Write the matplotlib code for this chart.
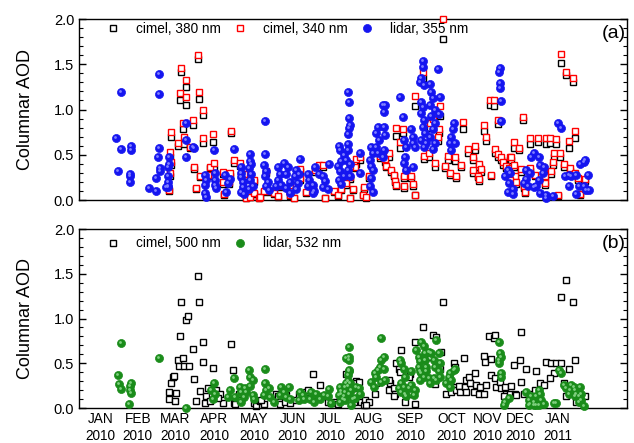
import numpy as np
import matplotlib.pyplot as plt
from matplotlib.ticker import MultipleLocator, FormatStrFormatter
from matplotlib.transforms import offset_copy

plt.rcParams['font.family'] = ['Liberation Sans', 'DejaVu Sans']

# x axis: days since 1 Jan 2010
month_pos = [0, 30, 60, 91, 123, 154, 184, 215, 248, 281, 310, 336, 366]
month_lab = ['JAN\n2010', 'FEB\n2010', 'MAR\n2010', 'APR\n2010', 'MAY\n2010',
             'JUN\n2010', 'JUL\n2010', 'AUG\n2010', 'SEP\n2010', 'OCT\n2010',
             'NOV\n2010', 'DEC\n2010', 'JAN\n2011']

# ---- panel (a): lidar 355 nm
lidar355_day = [13, 17, 17, 14, 25, 25, 24, 24, 24, 39, 45,
                47, 47, 47, 46, 48, 48, 45, 54, 54, 54, 54, 54, 53, 55, 55,
                69, 69, 69, 74, 75, 84, 84, 85, 84, 85,
                91, 92, 92, 92, 93, 107, 100, 102, 104, 101,
                113, 113, 113, 114, 114, 113, 115,
                120, 121, 120, 119, 121, 120, 122, 119,
                132, 132, 131, 133, 132, 134, 133, 135,
                142, 144, 142, 145, 141, 147, 150, 149, 152, 149, 152,
                160, 157, 156, 159, 158, 157,
                166, 167, 170, 166, 172, 171, 175, 170,
                178, 180, 182, 178, 183,
                191, 192, 195, 193, 190, 192, 195, 191, 193,
                198, 199, 199, 200, 199, 198, 198, 198, 197, 200, 198, 200,
                208, 208, 217, 218, 216, 217, 218, 217, 216, 218,
                222, 221, 223, 221, 222, 227, 228, 227, 226,
                226, 228, 227, 240, 242, 243, 245, 244, 243, 245,
                250, 249, 250, 252, 250, 258, 258, 257, 256, 259,
                257, 258, 257, 259, 258, 260, 257, 259,
                264, 265, 266, 264, 268, 265, 268, 266, 264, 261, 268, 266,
                270, 272, 271, 280, 281, 282, 283, 281, 284,
                320, 319, 320, 320, 321, 321,
                326, 328, 324, 327, 330, 326, 330,
                341, 344, 341, 342, 347, 339,
                345, 347, 351, 352, 355, 354, 351, 349, 352,
                357, 357, 362, 366, 369,
                372, 375, 377, 375, 381, 383, 381,
                384, 387, 388, 390, 389, 387, 391]
lidar355_aod = [0.68, 1.19, 0.56, 0.32, 0.60, 0.55, 0.29, 0.27, 0.20, 0.13, 0.10,
                1.39, 1.17, 0.58, 0.47, 0.35, 0.32, 0.24, 0.37, 0.26, 0.20, 0.16, 0.14, 0.14, 0.48, 0.40,
                0.85, 0.66, 0.48, 0.59, 0.58, 0.17, 0.08, 0.03, 0.28, 0.22,
                0.55, 0.30, 0.22, 0.17, 0.13, 0.56, 0.28, 0.19, 0.23, 0.09,
                0.36, 0.30, 0.25, 0.20, 0.14, 0.09, 0.07,
                0.43, 0.40, 0.51, 0.35, 0.29, 0.22, 0.16, 0.12,
                0.87, 0.51, 0.39, 0.32, 0.26, 0.20, 0.15, 0.11,
                0.36, 0.29, 0.22, 0.17, 0.15, 0.41, 0.37, 0.29, 0.20, 0.13, 0.08,
                0.45, 0.33, 0.26, 0.29, 0.19, 0.12,
                0.29, 0.22, 0.17, 0.15, 0.37, 0.10, 0.29, 0.08,
                0.26, 0.21, 0.12, 0.14, 0.40,
                0.60, 0.55, 0.50, 0.43, 0.38, 0.32, 0.27, 0.22, 0.18,
                1.19, 1.08, 0.91, 0.83, 0.80, 0.73, 0.62, 0.55, 0.44, 0.40, 0.33, 0.26,
                0.52, 0.30, 0.59, 0.52, 0.44, 0.38, 0.33, 0.24, 0.16, 0.09,
                0.81, 0.74, 0.66, 0.59, 0.52, 0.81, 0.72, 0.55, 0.48,
                1.05, 1.05, 0.97, 1.14, 0.92, 0.66, 0.59, 0.48, 0.41, 0.33,
                0.37, 0.79, 0.70, 0.59, 0.63, 1.54, 1.47, 1.35, 1.30, 1.27,
                1.08, 1.03, 0.96, 0.88, 0.81, 0.74, 0.66, 0.59,
                1.28, 1.19, 1.13, 1.05, 1.00, 0.93, 0.85, 0.78, 0.70, 0.63, 0.63, 0.56,
                1.45, 1.14, 0.95, 0.63, 0.70, 0.78, 0.85, 0.55, 0.63,
                1.46, 1.41, 1.29, 1.24, 1.09, 0.87,
                0.33, 0.30, 0.27, 0.19, 0.12, 0.09, 0.07,
                0.33, 0.30, 0.23, 0.15, 0.14, 0.19,
                0.48, 0.52, 0.47, 0.39, 0.37, 0.30, 0.22, 0.15, 0.08,
                0.05, 0.02, 0.04, 0.85, 0.80,
                0.26, 0.28, 0.26, 0.15, 0.28, 0.15, 0.07,
                0.40, 0.42, 0.44, 0.28, 0.11, 0.15, 0.11]

# ---- panel (a): cimel 340 / 380 nm (same days)
cimel_day = [55, 56, 57, 56, 57, 62, 64, 65, 66, 67, 69, 69, 72, 74, 75, 77,
             78, 79, 80, 82, 82, 86, 88, 90, 91, 98, 99, 98,
             105, 107, 104, 103, 112, 115, 117, 120, 123, 123, 127, 128,
             131, 133, 136, 139, 142, 144, 152, 152, 155, 157, 160, 160,
             165, 170, 172, 175, 178, 180, 187, 190, 193, 197, 200, 202,
             205, 204, 200, 208, 200,
             211, 210, 213, 215, 224, 228, 231, 229, 233, 235, 236, 237,
             237, 242, 240, 243, 245, 249, 250, 243, 252, 252, 258, 259,
             263, 264, 266, 272, 271, 270, 268, 276, 278, 280, 284, 285,
             274, 290, 289, 294, 298, 300, 303, 305, 298, 302,
             307, 309, 312, 315, 318, 313, 303, 316, 318, 321, 322, 325,
             327, 328, 329, 331, 337, 332, 328, 333, 339, 340,
             338, 331, 335, 344, 350, 357, 360, 365,
             344, 348, 355, 356, 356, 361, 363, 362, 368, 371, 376, 380,
             382, 388, 384, 388, 366, 369, 373, 378, 380, 375]
cimel340 = [0.11, 0.30, 0.42, 0.53, 0.75, 0.63, 1.18, 1.46, 0.85, 0.70, 1.33, 1.14,
            0.59, 0.88, 0.37, 0.13,
            1.60, 1.19, 0.27, 1.00, 0.68, 0.28, 0.37, 0.73, 0.41, 0.31, 0.07, 0.20,
            0.76, 0.44, 0.30, 0.20, 0.41, 0.29, 0.02, 0.03, 0.22, 0.08, 0.02, 0.03,
            0.10, 0.32, 0.10, 0.08, 0.04, 0.15, 0.10, 0.05, 0.02, 0.17, 0.24, 0.34,
            0.09, 0.12, 0.33, 0.39, 0.39, 0.02, 0.10, 0.05, 0.12, 0.19, 0.25, 0.12,
            0.45, 0.37, 0.38, 0.48, 0.02,
            0.14, 0.06, 0.03, 0.26, 0.49, 0.45, 0.52, 0.38, 0.33, 0.28, 0.21, 0.17,
            0.80, 0.79, 0.64, 0.26, 0.33, 0.26, 0.18, 0.15, 1.15, 0.06, 1.41, 0.49,
            0.52, 0.85, 0.89, 1.04, 0.79, 0.70, 0.41, 0.38, 0.49, 0.30, 0.47, 0.26,
            2.00, 0.86, 0.39, 0.56, 0.48, 0.60, 0.40, 0.34, 0.33, 0.27,
            0.83, 0.70, 1.10, 1.10, 0.88, 0.28, 0.23, 0.56, 0.51, 0.47, 0.42, 0.38,
            0.35, 0.47, 0.48, 0.39, 0.34, 0.26, 0.22, 0.20, 0.15, 0.09,
            0.92, 0.64, 0.58, 0.68, 0.69, 0.68, 0.68, 0.67,
            0.35, 0.28, 0.35, 0.26, 0.19, 0.32, 0.52, 0.42, 0.52, 0.40, 0.35, 0.30,
            0.24, 0.23, 0.07, 0.12, 0.05, 1.61, 1.42, 1.35, 0.76, 0.65]
cimel380 = [0.10, 0.27, 0.39, 0.48, 0.70, 0.60, 1.10, 1.42, 0.78, 0.62, 1.25, 1.05,
            0.57, 0.83, 0.34, 0.12,
            1.56, 1.12, 0.25, 0.94, 0.63, 0.26, 0.35, 0.64, 0.34, 0.29, 0.06, 0.18,
            0.74, 0.41, 0.27, 0.18, 0.38, 0.27, 0.02, 0.03, 0.20, 0.07, 0.02, 0.03,
            0.09, 0.30, 0.09, 0.07, 0.03, 0.14, 0.09, 0.04, 0.02, 0.15, 0.22, 0.32,
            0.08, 0.11, 0.31, 0.36, 0.37, 0.02, 0.09, 0.04, 0.11, 0.17, 0.23, 0.11,
            0.40, 0.35, 0.36, 0.44, 0.02,
            0.12, 0.05, 0.02, 0.24, 0.46, 0.42, 0.48, 0.36, 0.31, 0.26, 0.20, 0.16,
            0.71, 0.74, 0.58, 0.24, 0.31, 0.24, 0.16, 0.13, 1.04, 0.05, 1.35, 0.45,
            0.48, 0.80, 0.84, 0.93, 0.74, 0.65, 0.37, 0.35, 0.44, 0.28, 0.43, 0.24,
            1.78, 0.79, 0.36, 0.52, 0.44, 0.55, 0.37, 0.31, 0.30, 0.25,
            0.76, 0.65, 1.05, 1.04, 0.84, 0.26, 0.21, 0.52, 0.48, 0.44, 0.39, 0.35,
            0.32, 0.44, 0.44, 0.36, 0.31, 0.24, 0.20, 0.18, 0.13, 0.08,
            0.88, 0.58, 0.55, 0.62, 0.64, 0.62, 0.63, 0.62,
            0.32, 0.26, 0.32, 0.24, 0.17, 0.29, 0.48, 0.39, 0.48, 0.37, 0.32, 0.28,
            0.22, 0.21, 0.06, 0.11, 0.04, 1.51, 1.38, 1.30, 0.69, 0.58]

# ---- panel (b): cimel 500 nm
cimel500_day = [55, 57, 58, 59, 55, 60, 61, 62, 63, 66, 67, 71, 74, 64, 65, 69, 70,
                78, 79, 82, 82, 75, 77, 80, 90, 86, 89, 85, 84, 88, 93, 96, 98, 94,
                105, 106, 107, 108, 111, 112, 123, 125, 128, 131, 129,
                141, 142, 144, 148, 149, 155, 152, 159, 163, 165, 166, 170, 171,
                174, 176, 179, 182, 185, 187, 190, 197, 202, 205, 204,
                205, 207, 204, 203, 209, 211, 212, 215, 213, 220, 221,
                232, 231, 231, 235, 236, 235, 237, 239, 240, 241, 248, 247, 244,
                249, 252, 252, 258, 266, 269, 262, 264, 269, 272, 273, 268, 274,
                280, 277, 281, 283, 283, 284, 285, 287, 288, 291, 292, 293, 295,
                293, 296, 299, 300, 301, 303, 304, 307, 309, 307, 308, 313, 311,
                315, 316, 313, 316, 317, 320, 321, 324, 325, 323, 329, 328, 332,
                337, 331, 336, 341, 337, 349, 352, 355, 333, 339, 344, 348,
                357, 361, 363, 360, 365, 369, 375, 380, 371, 373, 376,
                369, 373, 378, 381, 384, 388, 385]
cimel500_aod = [0.18, 0.28, 0.35, 0.36, 0.10, 0.08, 0.17, 0.54, 0.47, 0.56, 0.47, 0.47,
                0.66, 0.80, 1.19, 0.98, 1.03,
                1.47, 1.18, 0.74, 0.51, 0.32, 0.08, 0.19, 0.45, 0.22, 0.16, 0.13, 0.06,
                0.08, 0.20, 0.16, 0.06, 0.11,
                0.72, 0.43, 0.06, 0.04, 0.16, 0.09, 0.06, 0.02, 0.08, 0.04, 0.09,
                0.16, 0.13, 0.04, 0.07, 0.14, 0.09, 0.06, 0.16, 0.13, 0.18, 0.20, 0.38, 0.14,
                0.13, 0.26, 0.13, 0.07, 0.06, 0.07, 0.04, 0.38, 0.28, 0.30, 0.13,
                0.28, 0.29, 0.16, 0.07, 0.07, 0.03, 0.09, 0.07, 0.03, 0.16, 0.28,
                0.28, 0.31, 0.20, 0.22, 0.16, 0.13, 0.50, 0.44, 0.40, 0.65, 0.38, 0.35, 0.07,
                0.16, 0.05, 0.74, 0.90, 0.82, 0.79, 0.62, 0.57, 0.50, 0.44, 0.63, 0.27, 1.18,
                0.28, 0.16, 0.18, 0.24, 0.50, 0.46, 0.20, 0.25, 0.18, 0.56, 0.24, 0.31, 0.35,
                0.18, 0.28, 0.18, 0.39, 0.26, 0.16, 0.24, 0.16, 0.26, 0.58, 0.51, 0.55, 0.80,
                0.78, 0.82, 0.37, 0.33, 0.24, 0.29, 0.22, 0.24, 0.16, 0.13, 0.25, 0.16, 0.16,
                0.85, 0.48, 0.54, 0.44, 0.29, 0.41, 0.28, 0.26, 0.14, 0.16, 0.16, 0.20,
                0.51, 0.50, 0.39, 0.33, 0.50, 0.50, 0.44, 0.54, 0.28, 0.13, 0.24,
                1.24, 1.43, 1.19, 0.07, 0.09, 0.13, 0.07]

# ---- panel (b): lidar 532 nm
lidar532_day = [17, 14, 15, 17, 25, 24, 25, 24, 23, 47, 69,
                91, 89, 92, 90, 104, 107, 108, 102,
                112, 113, 115, 116, 119, 120, 122, 120, 122, 123, 117, 113,
                132, 132, 133, 131, 136, 139, 135,
                145, 147, 151, 152, 149, 144, 160, 162, 159, 163,
                168, 171, 173, 176, 169, 179, 183, 182, 185,
                191, 193, 196, 194, 197, 196,
                199, 199, 199, 199, 198, 198, 198, 201, 202,
                192, 193, 195, 196, 192, 199, 197, 199, 200, 201,
                207, 208, 204, 205,
                217, 219, 220, 221, 222, 224, 227, 225, 227, 228, 225, 225,
                240, 241, 243, 244, 241, 243, 244, 245, 241, 239, 247, 249, 251, 252, 249,
                253, 255, 256, 257, 259, 260, 261, 257, 256, 259, 261, 263, 264, 265,
                267, 269, 268, 271, 272, 267, 263, 260, 255, 256, 271, 272, 269,
                277, 279, 280, 283, 284, 281, 280,
                319, 320, 319, 321, 321, 319, 321, 323, 324, 327,
                341, 343, 344, 347, 349, 351, 352, 353, 355, 351, 347, 345, 349, 343,
                363, 365, 367, 369, 371, 373, 375, 376, 377, 379, 380, 381, 383, 384,
                385, 385, 387, 380, 383]
lidar532_aod = [0.73, 0.37, 0.27, 0.21, 0.28, 0.25, 0.17, 0.20, 0.05, 0.56, 0.00,
                0.28, 0.20, 0.16, 0.10, 0.20, 0.34, 0.12, 0.12,
                0.24, 0.18, 0.12, 0.22, 0.42, 0.35, 0.31, 0.25, 0.15, 0.10, 0.18, 0.07,
                0.44, 0.28, 0.20, 0.15, 0.12, 0.07, 0.22,
                0.24, 0.18, 0.23, 0.10, 0.12, 0.15, 0.18, 0.14, 0.09, 0.10,
                0.10, 0.07, 0.16, 0.10, 0.18, 0.14, 0.21, 0.13, 0.06,
                0.14, 0.19, 0.24, 0.10, 0.28, 0.18,
                0.68, 0.57, 0.54, 0.42, 0.37, 0.30, 0.25, 0.20, 0.10,
                0.24, 0.16, 0.13, 0.09, 0.07, 0.16, 0.56, 0.41, 0.28, 0.03,
                0.22, 0.16, 0.11, 0.24,
                0.29, 0.24, 0.39, 0.35, 0.42, 0.46, 0.57, 0.54, 0.44, 0.31, 0.29, 0.78,
                0.54, 0.50, 0.44, 0.35, 0.28, 0.24, 0.16, 0.13, 0.18, 0.22, 0.22, 0.26, 0.15, 0.20, 0.41,
                0.65, 0.57, 0.52, 0.74, 0.69, 0.61, 0.46, 0.39, 0.31, 0.35, 0.41, 0.33, 0.28, 0.61,
                0.54, 0.76, 0.46, 0.61, 0.50, 0.33, 0.63, 0.54, 0.46, 0.41, 0.41, 0.35, 0.31,
                0.28, 0.35, 0.39, 0.42, 0.44, 0.31, 0.24,
                0.74, 0.61, 0.50, 0.39, 0.57, 0.54, 0.35, 0.03, 0.07, 0.11,
                0.18, 0.09, 0.05, 0.07, 0.13, 0.20, 0.16, 0.09, 0.05, 0.03, 0.03, 0.13, 0.03, 0.03,
                0.06, 0.06, 0.43, 0.39, 0.26, 0.22, 0.16, 0.20, 0.26, 0.24, 0.20, 0.16, 0.13, 0.24,
                0.16, 0.09, 0.02, 0.13, 0.07]

blue = '#1515f0'
green = '#1a8c1a'

fig = plt.figure(figsize=(6.34, 4.43), dpi=100)
ax1 = fig.add_axes([0.1246, 0.5485, 0.8644, 0.4085])
ax2 = fig.add_axes([0.1246, 0.079, 0.8644, 0.404])


def sphere(ax, x, y, col, hi, label):
    ax.plot(x, y, 'o', ms=5.8, mfc=col, mec=col, mew=0.5, label=label, clip_on=False, zorder=4)
    tr = offset_copy(ax.transData, fig=fig, x=-1.0, y=1.0, units='dots')
    ax.plot(x, y, 'o', ms=2.0, mfc=hi, mec='none', transform=tr, clip_on=False, zorder=5)


ax1.plot(cimel_day, cimel380, 's', ms=4.2, mfc='white', mec='black', mew=1.0,
         label='cimel, 380 nm', clip_on=False, zorder=2)
ax1.plot(cimel_day, cimel340, 's', ms=4.2, mfc='white', mec='#ff0000', mew=1.0,
         label='cimel, 340 nm', clip_on=False, zorder=3)
sphere(ax1, lidar355_day, lidar355_aod, blue, '#8080ff', 'lidar, 355 nm')

ax2.plot(cimel500_day, cimel500_aod, 's', ms=4.2, mfc='white', mec='black', mew=1.0,
         label='cimel, 500 nm', clip_on=False, zorder=2)
sphere(ax2, lidar532_day, lidar532_aod, green, '#80d080', 'lidar, 532 nm')

for ax, tag, ly in [(ax1, '(a)', 0.945), (ax2, '(b)', 0.92)]:
    ax.set_xlim(-17, 421.6)
    ax.set_ylim(0, 2.0)
    ax.yaxis.set_major_locator(MultipleLocator(0.5))
    ax.yaxis.set_minor_locator(MultipleLocator(0.1))
    ax.yaxis.set_major_formatter(FormatStrFormatter('%.1f'))
    ax.tick_params(axis='y', which='both', direction='in', left=True, right=True,
                   labelsize=10.5)
    ax.tick_params(axis='y', which='major', length=5, width=1)
    ax.tick_params(axis='y', which='minor', length=3, width=0.8)
    ax.set_xticks(month_pos)
    ax.tick_params(axis='x', length=0, pad=3)
    ax.set_ylabel('Columnar AOD', fontsize=13, labelpad=14)
    for s in ax.spines.values():
        s.set_linewidth(1.0)
    ax.text(0.997, 0.92, tag, transform=ax.transAxes, ha='right', va='center', fontsize=14)
    ax.legend(loc='center left', bbox_to_anchor=(0.03, ly), ncol=3, frameon=False,
              fontsize=9.8, handletextpad=1.3, columnspacing=1.0, handlelength=0.8,
              borderpad=0.4, markerscale=1.0)

ax1.set_xticklabels([])
ax2.set_xticklabels(month_lab, fontsize=9.8, linespacing=1.25)

fig.savefig('out.png', dpi=100)
